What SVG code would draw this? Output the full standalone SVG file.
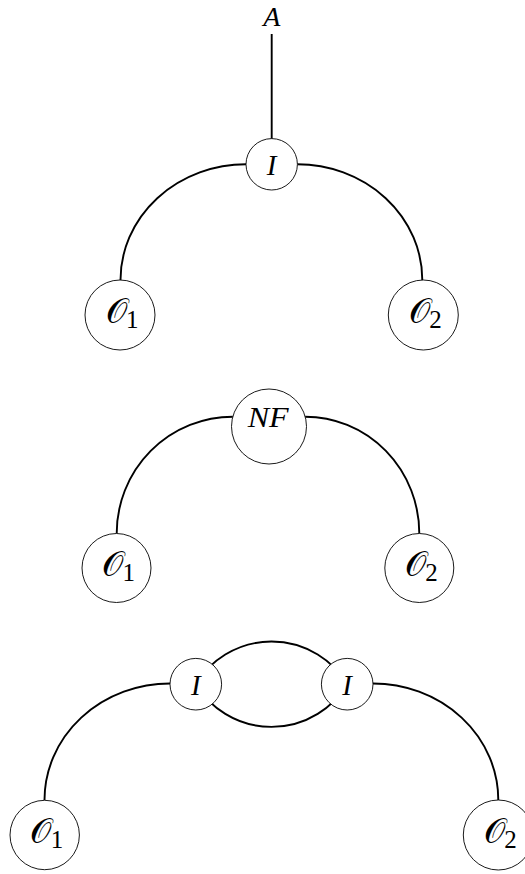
<svg xmlns="http://www.w3.org/2000/svg" width="525" height="874" viewBox="0 0 525 874">
<style>
.edge{fill:none;stroke:#000;stroke-width:1.9}
.node{fill:#fff;stroke:#000;stroke-width:0.9}
.lbl{font-family:"Liberation Serif","DejaVu Serif",serif;font-style:italic;font-size:29px;fill:#000;text-anchor:middle}
.scr{font-family:"DejaVu Serif","DejaVu Sans","Noto Sans",serif;font-size:34px;fill:#000;text-anchor:end}
.sub{font-family:"Liberation Serif","DejaVu Serif",serif;font-size:25px;fill:#000}
</style>
<rect width="525" height="874" fill="#fff"/>
<g id="connectors">
<line class="edge" x1="271.7" y1="34" x2="271.7" y2="140"/>
<path class="edge" d="M120.5 280 A125.5 115.7 0 0 1 246 164.3"/>
<path class="edge" d="M297.3 164.3 A125 115.7 0 0 1 422.3 280"/>
<path class="edge" d="M116.7 533.5 A116.1 116.8 0 0 1 232.8 416.7"/>
<path class="edge" d="M305.2 416.7 A114.1 116.8 0 0 1 419.3 533.5"/>
<path class="edge" d="M195.8 684.2 A88.5 88.5 0 0 1 347.2 684.2"/>
<path class="edge" d="M195.8 684.2 A88.5 88.5 0 0 0 347.2 684.2"/>
<path class="edge" d="M44.5 800 A125.5 116.5 0 0 1 170 683.5"/>
<path class="edge" d="M373 683.5 A125.3 116.5 0 0 1 498.3 800"/>
</g>
<g id="A"><text class="lbl" x="271.7" y="25.5" style="font-size:28px">A</text></g>
<g id="I1"><circle class="node" cx="271.7" cy="164.3" r="25.7"/><text class="lbl" x="271.7" y="174.7">I</text></g>
<g id="O1a"><circle class="node" cx="120" cy="315" r="35"/><text class="scr" x="126.5" y="322.5">𝒪</text><text class="sub" x="126" y="327.5">1</text></g>
<g id="O2a"><circle class="node" cx="423.3" cy="315" r="35"/><text class="scr" x="429.8" y="322.5">𝒪</text><text class="sub" x="429.3" y="327.5">2</text></g>
<g id="NF"><circle class="node" cx="269" cy="426.5" r="37.5"/><text class="lbl" x="268.2" y="427.3" textLength="41" lengthAdjust="spacingAndGlyphs">NF</text></g>
<g id="O1b"><circle class="node" cx="116.5" cy="568" r="34.5"/><text class="scr" x="123" y="575.5">𝒪</text><text class="sub" x="122.5" y="580.5">1</text></g>
<g id="O2b"><circle class="node" cx="419.3" cy="568" r="34.5"/><text class="scr" x="425.8" y="575.5">𝒪</text><text class="sub" x="425.3" y="580.5">2</text></g>
<g id="I2"><circle class="node" cx="195.8" cy="684.2" r="25.8"/><text class="lbl" x="195.8" y="694.7">I</text></g>
<g id="I3"><circle class="node" cx="347.2" cy="684.2" r="25.8"/><text class="lbl" x="347.2" y="694.7">I</text></g>
<g id="O1c"><circle class="node" cx="44.7" cy="835" r="34.7"/><text class="scr" x="51.2" y="842.5">𝒪</text><text class="sub" x="50.7" y="847.5">1</text></g>
<g id="O2c"><circle class="node" cx="498.3" cy="835" r="35"/><text class="scr" x="504.8" y="842.5">𝒪</text><text class="sub" x="504.3" y="847.5">2</text></g>
</svg>
